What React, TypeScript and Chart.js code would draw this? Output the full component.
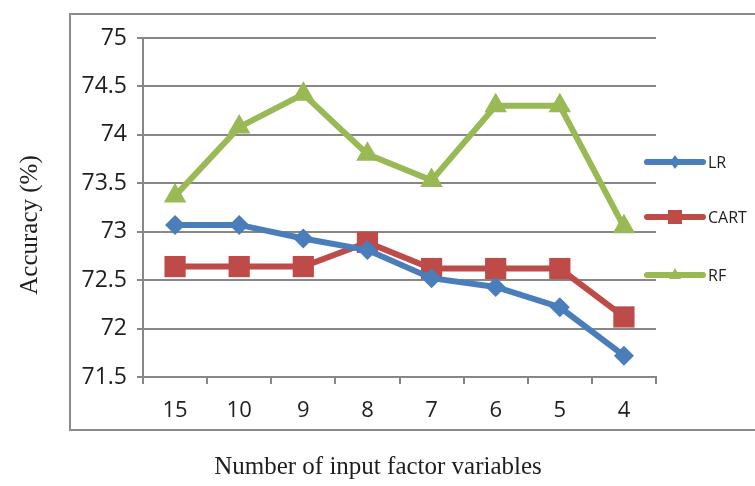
import React, { useEffect, useRef } from "react";
import { Chart, registerables } from "chart.js";

Chart.register(...registerables);

const categories = ["15", "10", "9", "8", "7", "6", "5", "4"];
const lrValues = [73.07, 73.07, 72.93, 72.81, 72.52, 72.43, 72.22, 71.72];
const cartValues = [72.64, 72.64, 72.64, 72.89, 72.62, 72.62, 72.62, 72.12];
const rfValues = [73.37, 74.08, 74.42, 73.8, 73.53, 74.3, 74.3, 73.05];
const seriesNames = ["LR", "CART", "RF"];
const xTitle = "Number of input factor variables";
const yTitle = "Accuracy (%)";

const BLUE = "#4A7EBB";
const RED = "#BE4B48";
const GREEN = "#98B954";
const GRID = "#878787";

const decorPlugin = {
  id: "decor",
  beforeDraw(chart: any) {
    const ctx = chart.ctx;
    ctx.save();
    ctx.strokeStyle = "#8c8c8c";
    ctx.lineWidth = 2;
    ctx.beginPath();
    ctx.moveTo(760, 14);
    ctx.lineTo(70, 14);
    ctx.lineTo(70, 430);
    ctx.lineTo(760, 430);
    ctx.stroke();
    ctx.restore();
  },
  afterDraw(chart: any) {
    const ctx = chart.ctx;
    ctx.save();
    ctx.fillStyle = "#1e1e1e";
    ctx.font = "25px 'Liberation Serif', serif";
    ctx.textAlign = "center";
    ctx.textBaseline = "middle";
    ctx.fillText(xTitle, 378, 467);
    ctx.save();
    ctx.translate(30, 225);
    ctx.rotate(-Math.PI / 2);
    ctx.fillText(yTitle, 0, 0);
    ctx.restore();

    const ys = [162, 217, 275];
    chart.data.datasets.forEach((ds: any, i: number) => {
      const y = ys[i];
      const color = ds.borderColor;
      ctx.strokeStyle = color;
      ctx.fillStyle = color;
      ctx.lineWidth = 6;
      ctx.lineCap = "round";
      ctx.beginPath();
      ctx.moveTo(647, y);
      ctx.lineTo(703, y);
      ctx.stroke();
      const cx = 675;
      ctx.beginPath();
      if (ds.pointStyle === "rectRot") {
        ctx.moveTo(cx, y - 7);
        ctx.lineTo(cx + 5, y);
        ctx.lineTo(cx, y + 7);
        ctx.lineTo(cx - 5, y);
      } else if (ds.pointStyle === "rect") {
        ctx.rect(cx - 7, y - 7, 14, 14);
      } else {
        ctx.moveTo(cx, y - 7);
        ctx.lineTo(cx + 6, y + 4);
        ctx.lineTo(cx - 6, y + 4);
      }
      ctx.closePath();
      ctx.fill();
      ctx.fillStyle = "#1e1e1e";
      ctx.font = "16px 'Open Sans', sans-serif";
      ctx.textAlign = "left";
      ctx.textBaseline = "middle";
      ctx.fillText(ds.label, 708, y + 1);
    });
    ctx.restore();
  },
};

export default function App() {
  const ref = useRef<HTMLCanvasElement | null>(null);

  useEffect(() => {
    if (!ref.current) return;
    const chart = new Chart(ref.current, {
      type: "line",
      data: {
        labels: categories,
        datasets: [
          {
            label: seriesNames[0],
            data: lrValues,
            borderColor: BLUE,
            backgroundColor: BLUE,
            borderWidth: 6,
            pointStyle: "rectRot",
            pointRadius: 10,
            pointBorderWidth: 0,
            tension: 0,
          },
          {
            label: seriesNames[1],
            data: cartValues,
            borderColor: RED,
            backgroundColor: RED,
            borderWidth: 6,
            pointStyle: "rect",
            pointRadius: 15,
            pointBorderWidth: 0,
            tension: 0,
          },
          {
            label: seriesNames[2],
            data: rfValues,
            borderColor: GREEN,
            backgroundColor: GREEN,
            borderWidth: 6,
            pointStyle: "triangle",
            pointRadius: 13,
            pointBorderWidth: 0,
            tension: 0,
          },
        ],
      },
      options: {
        responsive: false,
        animation: false,
        layout: { padding: { left: 0, top: 38, right: 99, bottom: 0 } },
        plugins: {
          legend: { display: false },
          tooltip: { enabled: false },
        },
        scales: {
          x: {
            type: "category",
            offset: true,
            afterFit: (s: any) => {
              s.height = 109;
            },
            grid: {
              offset: true,
              drawOnChartArea: false,
              drawTicks: true,
              tickLength: 7,
              color: GRID,
              lineWidth: 2,
            },
            border: { color: GRID, width: 2 },
            ticks: {
              color: "#1e1e1e",
              font: { family: "'Open Sans', sans-serif", size: 22 },
              padding: 14,
              maxRotation: 0,
            },
          },
          y: {
            min: 71.5,
            max: 75,
            afterFit: (s: any) => {
              s.width = 143;
            },
            grid: {
              color: GRID,
              lineWidth: 2,
              tickLength: 6,
            },
            border: { color: GRID, width: 2 },
            ticks: {
              stepSize: 0.5,
              color: "#1e1e1e",
              font: { family: "'Open Sans', sans-serif", size: 23 },
              padding: 10,
              callback: (v: any) => String(Math.round(Number(v) * 10) / 10),
            },
          },
        },
      },
      plugins: [decorPlugin],
    } as any);
    return () => chart.destroy();
  }, []);

  return (
    <div style={{ position: "absolute", left: 0, top: 0, width: 755, height: 486, background: "#fff" }}>
      <canvas ref={ref} width={755} height={486} />
    </div>
  );
}
